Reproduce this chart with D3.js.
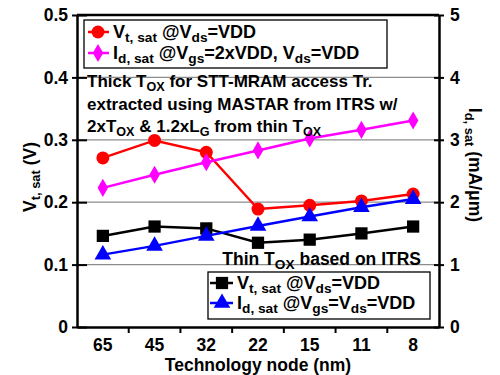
<!DOCTYPE html>
<html>
<head>
<meta charset="utf-8">
<script src="https://cdn.jsdelivr.net/npm/d3@7"></script>
<style>
  body { margin: 0; background: #fff; }
  svg text { font-family: "Liberation Sans", Arial, sans-serif; font-weight: bold; fill: #000; }
</style>
</head>
<body>
<svg id="chart" width="500" height="375"></svg>
<script>
// technology nodes (x categories)
const nodes = ["65", "45", "32", "22", "15", "11", "8"];
// thick Tox series
const vtThick = [0.271, 0.299, 0.280, 0.189, 0.195, 0.202, 0.213];
const idThick = [2.23, 2.44, 2.64, 2.83, 3.02, 3.16, 3.31];
// thin Tox series
const vtThin = [0.146, 0.161, 0.158, 0.135, 0.140, 0.150, 0.161];
const idThin = [1.16, 1.30, 1.46, 1.62, 1.77, 1.92, 2.05];
// ticks
const leftTicks = [0, 0.1, 0.2, 0.3, 0.4, 0.5];
const rightTicks = [0, 1, 2, 3, 4, 5];

const svg = d3.select("#chart");
const margin = {top: 15, right: 61, bottom: 48, left: 77};
const width = 500, height = 375;

const x = d3.scaleBand()
  .domain(nodes)
  .range([margin.left, width - margin.right]);
const yL = d3.scaleLinear().domain([0, 0.5]).range([height - margin.bottom, margin.top]);
const yR = d3.scaleLinear().domain([0, 5]).range([height - margin.bottom, margin.top]);
const cx = d => x(d) + x.bandwidth() / 2;

// rich text with subscripts
function richText(g, xPos, yPos, parts, size, anchor, subScale) {
  const t = g.append("text")
    .attr("x", xPos).attr("y", yPos)
    .attr("text-anchor", anchor || "start")
    .style("font-size", size + "px");
  let shifted = 0;
  parts.forEach(p => {
    const sub = Array.isArray(p);
    const txt = sub ? p[0] : p;
    const target = sub ? Math.round(size * 0.22) : 0;
    t.append("tspan")
      .attr("dy", target - shifted)
      .style("font-size", sub ? (size * (subScale || 0.74)).toFixed(1) + "px" : null)
      .text(txt);
    shifted = target;
  });
  return t;
}

// gridlines
svg.append("g")
  .selectAll("line")
  .data(leftTicks.slice(1, -1))
  .join("line")
  .attr("x1", margin.left).attr("x2", width - margin.right)
  .attr("y1", d => yL(d)).attr("y2", d => yL(d))
  .attr("stroke", "#8c8c8c").attr("stroke-width", 1.3);

// axes
const axL = svg.append("g")
  .attr("transform", `translate(${margin.left},0)`)
  .call(d3.axisLeft(yL).tickValues(leftTicks).tickFormat(d => d === 0 ? "0" : d3.format(".1f")(d)).tickSizeInner(5).tickSizeOuter(0).tickPadding(4));
axL.selectAll(".tick line").attr("x2", 10).attr("x1", -5);
const axR = svg.append("g")
  .attr("transform", `translate(${width - margin.right},0)`)
  .call(d3.axisRight(yR).tickValues(rightTicks).tickFormat(d3.format("d")).tickSizeInner(5).tickSizeOuter(0).tickPadding(6));
axR.selectAll(".tick line").attr("x1", -5).attr("x2", 5);
const axB = svg.append("g")
  .attr("transform", `translate(0,${height - margin.bottom})`)
  .call(d3.axisBottom(x).tickSize(0).tickPadding(12));
[axL, axR, axB].forEach(a => {
  a.selectAll("path.domain").attr("stroke", "#000").attr("stroke-width", 2.5);
  a.selectAll(".tick line").attr("stroke", "#000").attr("stroke-width", 2);
  a.selectAll("text").style("font-size", "17.5px").style("font-family", "Liberation Sans, Arial, sans-serif").style("font-weight", "bold").attr("fill", "#000");
});
// x ticks between categories
svg.append("g")
  .selectAll("line")
  .data(nodes.slice(1))
  .join("line")
  .attr("x1", d => x(d)).attr("x2", d => x(d))
  .attr("y1", height - margin.bottom).attr("y2", height - margin.bottom + 6)
  .attr("stroke", "#000").attr("stroke-width", 2);
// top frame
svg.append("line")
  .attr("x1", margin.left).attr("x2", width - margin.right)
  .attr("y1", margin.top).attr("y2", margin.top)
  .attr("stroke", "#000").attr("stroke-width", 2.5);

// axis titles
svg.append("text").attr("x", x.range()[0] + (x.range()[1] - x.range()[0]) / 2).attr("y", 371)
  .attr("text-anchor", "middle").style("font-size", "17.5px").text("Technology node (nm)");
richText(svg.append("g").attr("transform", "translate(36,177) rotate(-90)"), 0, 0,
  ["V", ["t, sat"], " (V)"], 17.5, "middle");
richText(svg.append("g").attr("transform", "translate(469,165) rotate(90)"), 0, 0,
  ["I", ["d, sat"], " (mA/\u03bcm)"], 17.5, "middle");

// series
const diamond = d3.symbol().type(d3.symbolDiamond).size(95);
const square = d3.symbol().type(d3.symbolSquare).size(150);
const triangle = d3.symbol().type(d3.symbolTriangle).size(120);
const series = [
  {vals: vtThick, y: yL, color: "#ff0000", mark: "circle"},
  {vals: idThick, y: yR, color: "#ff00ff", mark: diamond},
  {vals: vtThin, y: yL, color: "#000000", mark: square},
  {vals: idThin, y: yR, color: "#0000ff", mark: triangle}
];
series.forEach(s => {
  const pts = nodes.map((n, i) => [cx(n), s.y(s.vals[i])]);
  const g = svg.append("g");
  g.append("path")
    .attr("d", d3.line()(pts))
    .attr("fill", "none").attr("stroke", s.color).attr("stroke-width", 2.5);
  drawMarks(g, pts, s);
});

function drawMarks(g, pts, s) {
  if (s.mark === "circle") {
    g.selectAll("circle").data(pts).join("circle")
      .attr("cx", d => d[0]).attr("cy", d => d[1]).attr("r", 6.5)
      .attr("fill", s.color);
  } else {
    g.selectAll("path.m").data(pts).join("path").attr("class", "m")
      .attr("d", s.mark)
      .attr("transform", d => `translate(${d[0]},${d[1]})`)
      .attr("fill", s.color);
  }
}

// top legend
svg.append("rect").attr("x", 84).attr("y", 20).attr("width", 303).attr("height", 48)
  .attr("fill", "#fff").attr("stroke", "#000").attr("stroke-width", 1.3);
const legTop = [
  {s: series[0], y: 32, parts: ["V", ["t, sat"], " @V", ["ds"], "=VDD"]},
  {s: series[1], y: 53, parts: ["I", ["d, sat"], " @V", ["gs"], "=2xVDD, V", ["ds"], "=VDD"]}
];
legTop.forEach(l => {
  const g = svg.append("g");
  g.append("line").attr("x1", 88).attr("x2", 109).attr("y1", l.y).attr("y2", l.y)
    .attr("stroke", l.s.color).attr("stroke-width", 2.5);
  drawMarks(g, [[98, l.y]], l.s);
  richText(svg, 113, l.y + 6, l.parts, 18, "start", 0.76);
});

// annotation thick Tox
const noteLines = [
  ["Thick T", ["OX"], " for STT-MRAM access Tr."],
  ["extracted using MASTAR from ITRS w/"],
  ["2xT", ["OX"], " & 1.2xL", ["G"], " from thin T", ["OX"]]
];
noteLines.forEach((p, i) => richText(svg, 87, 87 + i * 22.5, p, 17));

// annotation thin Tox
richText(svg, 421, 265, ["Thin T", ["OX"], " based on ITRS"], 17.5, "end", 0.78);

// bottom legend
svg.append("rect").attr("x", 208).attr("y", 272).attr("width", 222).attr("height", 47)
  .attr("fill", "#fff").attr("stroke", "#000").attr("stroke-width", 1.3);
const legBot = [
  {s: series[2], y: 283, parts: ["V", ["t, sat"], " @V", ["ds"], "=VDD"]},
  {s: series[3], y: 303, parts: ["I", ["d, sat"], " @V", ["gs"], "=V", ["ds"], "=VDD"]}
];
legBot.forEach(l => {
  const g = svg.append("g");
  g.append("line").attr("x1", 210).attr("x2", 233).attr("y1", l.y).attr("y2", l.y)
    .attr("stroke", l.s.color).attr("stroke-width", 2.5);
  drawMarks(g, [[222, l.y]], l.s);
  richText(svg, 237, l.y + 6, l.parts, 18, "start", 0.76);
});
</script>
</body>
</html>
